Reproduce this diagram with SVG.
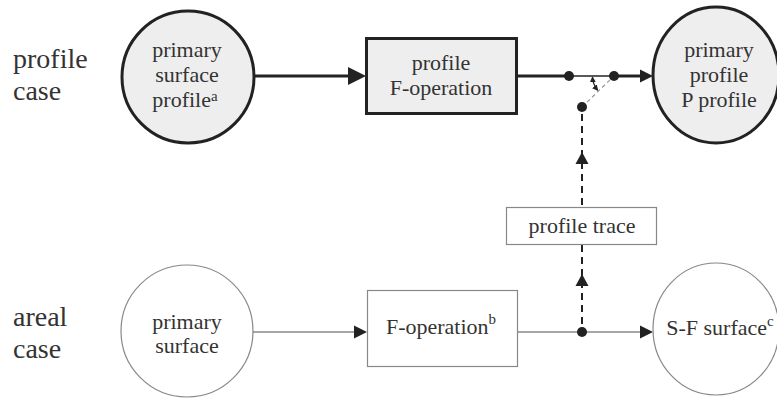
<svg xmlns="http://www.w3.org/2000/svg" width="777" height="401" viewBox="0 0 777 401">
<defs>
<style>
text{font-family:"Liberation Serif","Times New Roman",serif;fill:#333}
.lbl{font-size:28px}
.nt{font-size:22px;text-anchor:middle}
.sup{font-size:15px}
.hv{fill:#eeeeee;stroke:#222;stroke-width:3}
.lt{fill:#fff;stroke:#888;stroke-width:1.2}
.thick{stroke:#222;stroke-width:3;fill:none}
.thin{stroke:#888;stroke-width:1.3;fill:none}
.dash{stroke:#222;stroke-width:2;fill:none;stroke-dasharray:7 5}
.gdash{stroke:#999;stroke-width:1.2;fill:none;stroke-dasharray:4 3}
.dot{fill:#222}
.ah{fill:#222}
</style>
<marker id="sm" viewBox="0 0 10 10" refX="8" refY="5" markerWidth="6" markerHeight="6" orient="auto-start-reverse" markerUnits="userSpaceOnUse">
<path d="M0,0 L10,5 L0,10 Z" fill="#222"/>
</marker>
</defs>
<g id="labels">
<text class="lbl" x="13" y="68">profile</text>
<text class="lbl" x="13" y="100">case</text>
<text class="lbl" x="13" y="326">areal</text>
<text class="lbl" x="13" y="358">case</text>
</g>
<g id="connectors">
<line class="thick" x1="254" y1="76" x2="350" y2="76"/>
<polygon class="ah" points="348,67 366,76 348,85"/>
<line class="thick" x1="518" y1="76" x2="569" y2="76"/>
<line stroke="#222" stroke-width="1.5" x1="569" y1="76" x2="614" y2="76"/>
<line class="thick" x1="614" y1="76" x2="642" y2="76"/>
<polygon class="ah" points="640,69.5 653,76 640,82.5"/>
<line class="gdash" x1="582" y1="107" x2="614" y2="76"/>
<path d="M592.5,77.5 A22,22 0 0 0 597.5,90" stroke="#222" stroke-width="1.3" fill="none" marker-start="url(#sm)" marker-end="url(#sm)"/>
<circle class="dot" cx="569" cy="76" r="5"/>
<circle class="dot" cx="614" cy="76" r="5"/>
<circle class="dot" cx="582" cy="107" r="5"/>
<line class="dash" x1="582" y1="114" x2="582" y2="207"/>
<polygon class="ah" points="575.5,164 582,152 588.5,164"/>
<line class="dash" x1="582" y1="245" x2="582" y2="332"/>
<polygon class="ah" points="575.5,286 582,274 588.5,286"/>
<line class="thin" x1="253" y1="332" x2="356" y2="332"/>
<polygon class="ah" points="354,325.5 367,332 354,338.5"/>
<line class="thin" x1="518" y1="332" x2="642" y2="332"/>
<polygon class="ah" points="640,325.5 653,332 640,338.5"/>
<circle class="dot" cx="582" cy="332" r="5"/>
</g>
<g id="n-primary-surface-profile">
<circle class="hv" cx="188" cy="77" r="66"/>
<text class="nt" x="187" y="57">primary</text>
<text class="nt" x="187" y="82">surface</text>
<text class="nt" x="185" y="107">profile<tspan class="sup" dy="-6">a</tspan></text>
</g>
<g id="n-profile-f-operation">
<rect class="hv" x="366.5" y="38.5" width="150" height="75"/>
<text class="nt" x="441" y="70">profile</text>
<text class="nt" x="441" y="95">F-operation</text>
</g>
<g id="n-primary-profile">
<ellipse class="hv" cx="716" cy="75" rx="63" ry="68"/>
<text class="nt" x="719" y="57">primary</text>
<text class="nt" x="719" y="82">profile</text>
<text class="nt" x="719" y="107">P profile</text>
</g>
<g id="n-profile-trace">
<rect x="506.5" y="207.5" width="150" height="37" fill="#fff" stroke="#888" stroke-width="1.2"/>
<text class="nt" x="582" y="233">profile trace</text>
</g>
<g id="n-primary-surface">
<circle class="lt" cx="187" cy="331" r="66"/>
<text class="nt" x="187" y="329">primary</text>
<text class="nt" x="187" y="353">surface</text>
</g>
<g id="n-f-operation">
<rect class="lt" x="367.5" y="290.5" width="150" height="76"/>
<text class="nt" x="441" y="334">F-operation<tspan class="sup" dy="-10">b</tspan></text>
</g>
<g id="n-sf-surface">
<ellipse class="lt" cx="716" cy="329" rx="63" ry="66"/>
<text class="nt" x="720" y="335">S-F surface<tspan class="sup" dy="-9">c</tspan></text>
</g>
</svg>
